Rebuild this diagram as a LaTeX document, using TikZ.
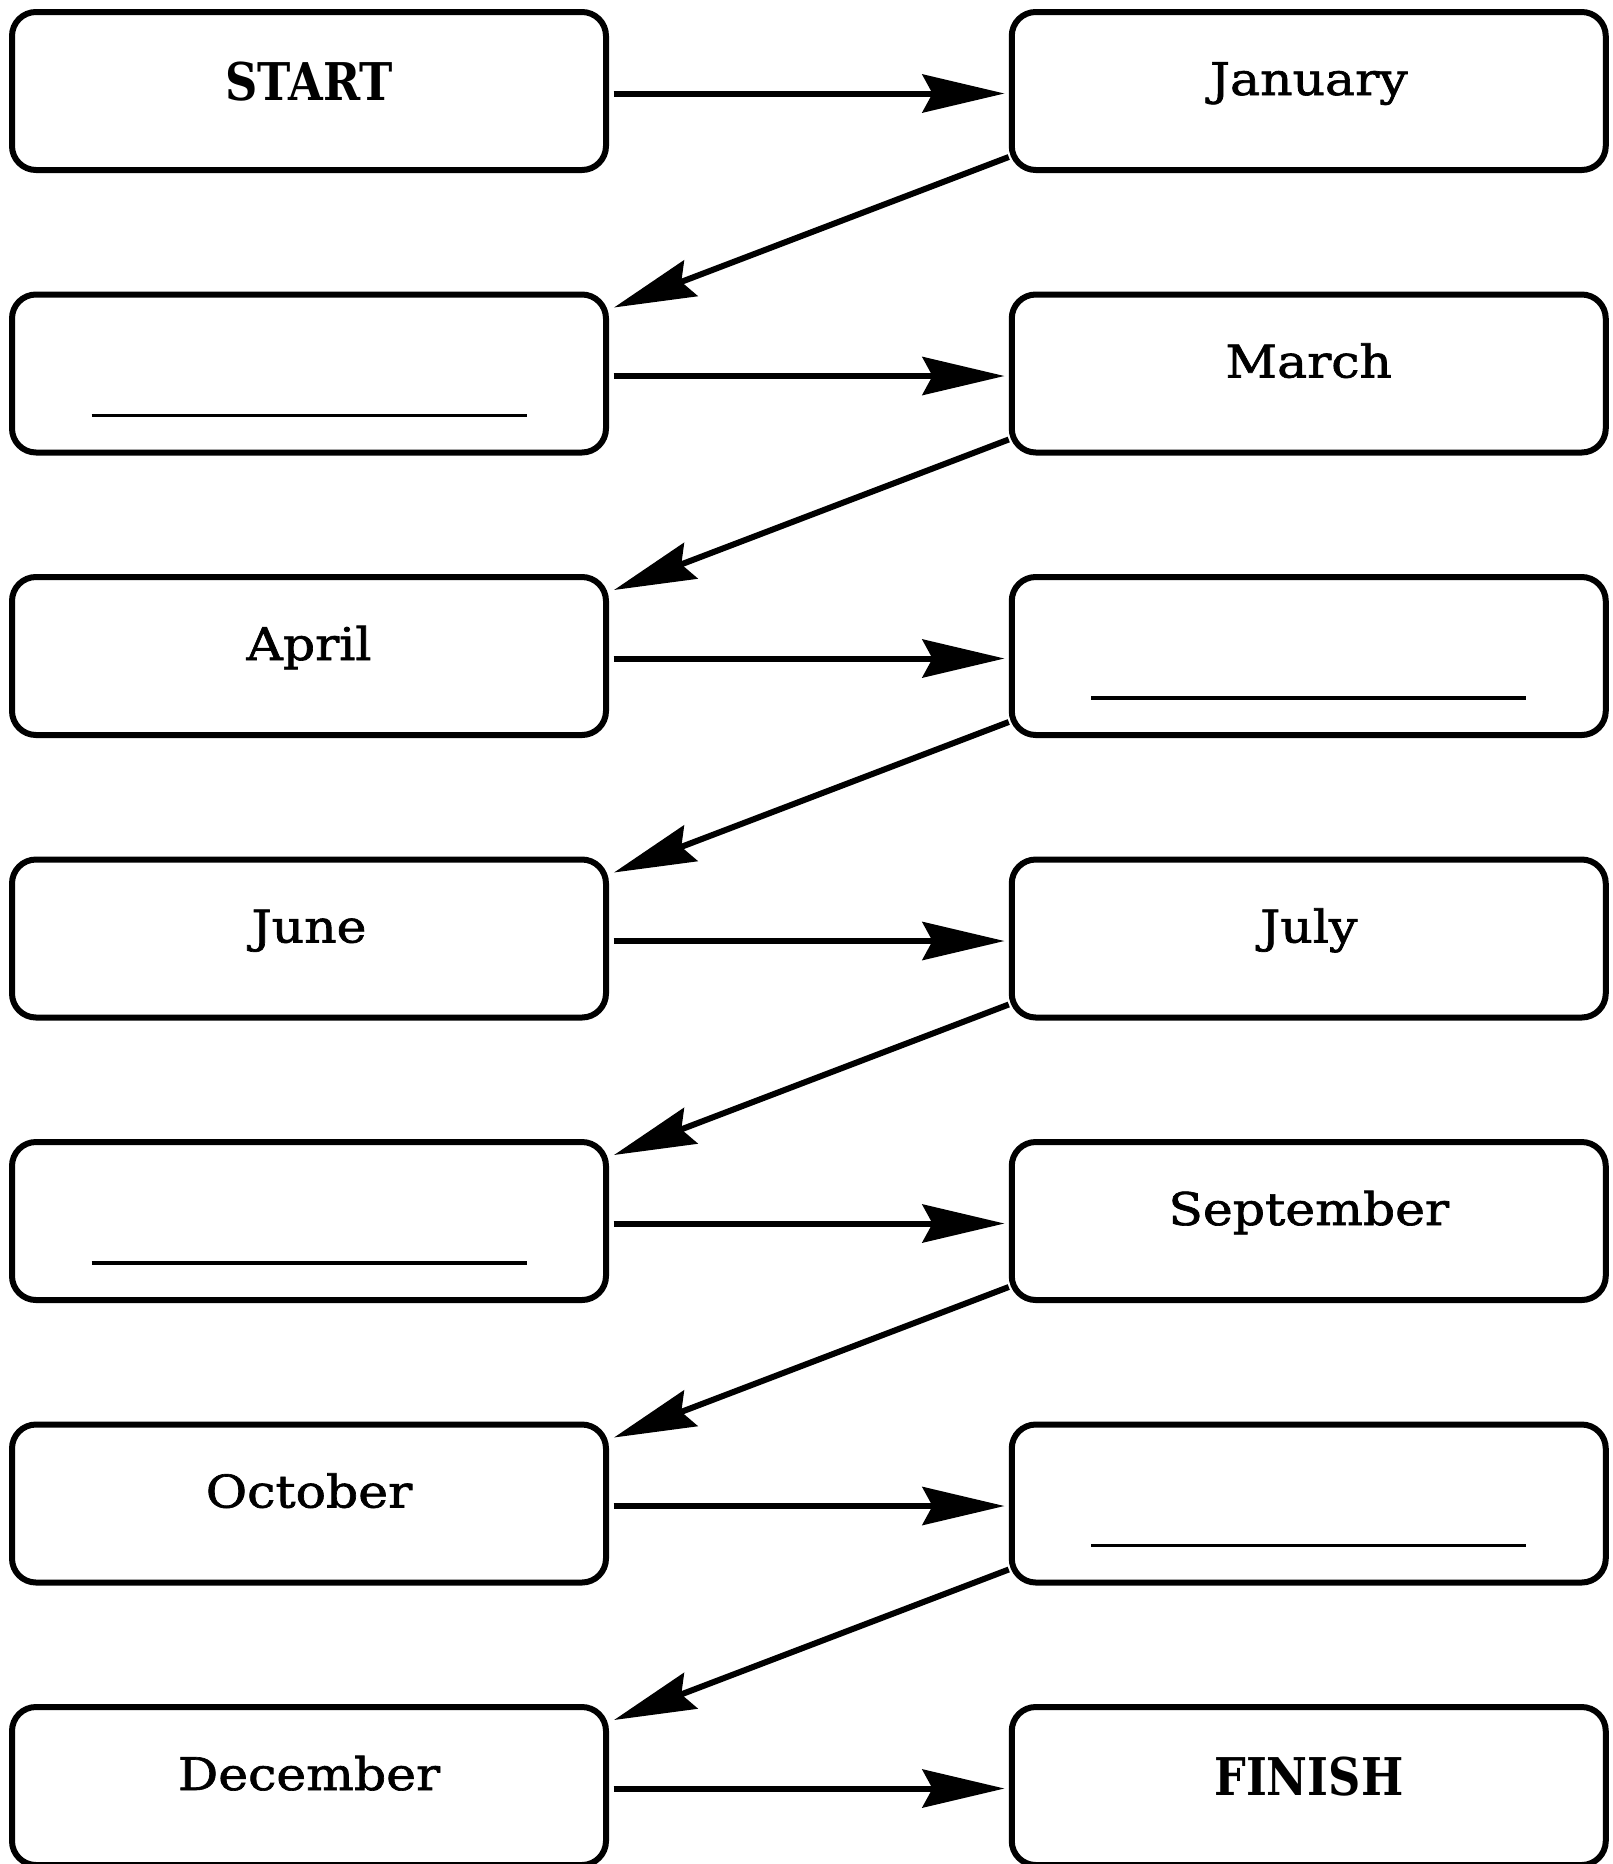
\documentclass[tikz,border=0pt]{standalone}
\usepackage{fontspec}
\setmainfont{DejaVu Serif}[FakeStretch=1.12, FakeBold=1.5]
\newfontfamily\endfont{DejaVu Serif}[FakeStretch=0.86]
\usetikzlibrary{arrows.meta}
\begin{document}
\begin{tikzpicture}[x=1pt,y=-1pt,
  box/.style={draw, line width=6pt, rounded corners=24pt, minimum width=594pt,
    minimum height=158pt, inner sep=0pt, font=\fontsize{45}{50}\selectfont,
    text height=20pt, text depth=12pt},
  endbox/.style={box, font=\endfont\bfseries\fontsize{52}{60}\selectfont,
    text height=27pt, text depth=9pt},
  conn/.style={line width=6pt, -{Stealth[length=82pt,width=38pt,inset=10pt]}},
  ul/.style={line width=3.5pt}]
\fill[white] (0,0) rectangle (1613,1864);
\useasboundingbox (0,0) rectangle (1613,1864);

\node[endbox] (L0) at (309,91) {START};
\node[box]    (R0) at (1308.75,91) {January};
\node[box]    (L1) at (309,373.5) {};
\node[box]    (R1) at (1308.75,373.5) {March};
\node[box]    (L2) at (309,656) {April};
\node[box]    (R2) at (1308.75,656) {};
\node[box]    (L3) at (309,938.5) {June};
\node[box]    (R3) at (1308.75,938.5) {July};
\node[box]    (L4) at (309,1221) {};
\node[box]    (R4) at (1308.75,1221) {September};
\node[box]    (L5) at (309,1503.5) {October};
\node[box]    (R5) at (1308.75,1503.5) {};
\node[box]    (L6) at (309,1786) {December};
\node[endbox] (R6) at (1308.75,1786) {FINISH};

\foreach \n in {L1,R2,L4,R5}
  \draw[ul] ([xshift=-217.5pt,yshift=-42pt]\n.center) -- ([xshift=217.5pt,yshift=-42pt]\n.center);

\foreach \i in {0,...,6}
  \draw[conn, shorten <=4.5pt, shorten >=4.25pt] ([yshift=-2.5pt]L\i.east) -- ([yshift=-2.5pt]R\i.west);

\foreach \i [evaluate=\i as \j using int(\i+1)] in {0,...,5}
  \draw[conn] ([yshift=-66pt]R\i.west) -- ([xshift=5pt,yshift=66pt]L\j.east);
\end{tikzpicture}
\end{document}
